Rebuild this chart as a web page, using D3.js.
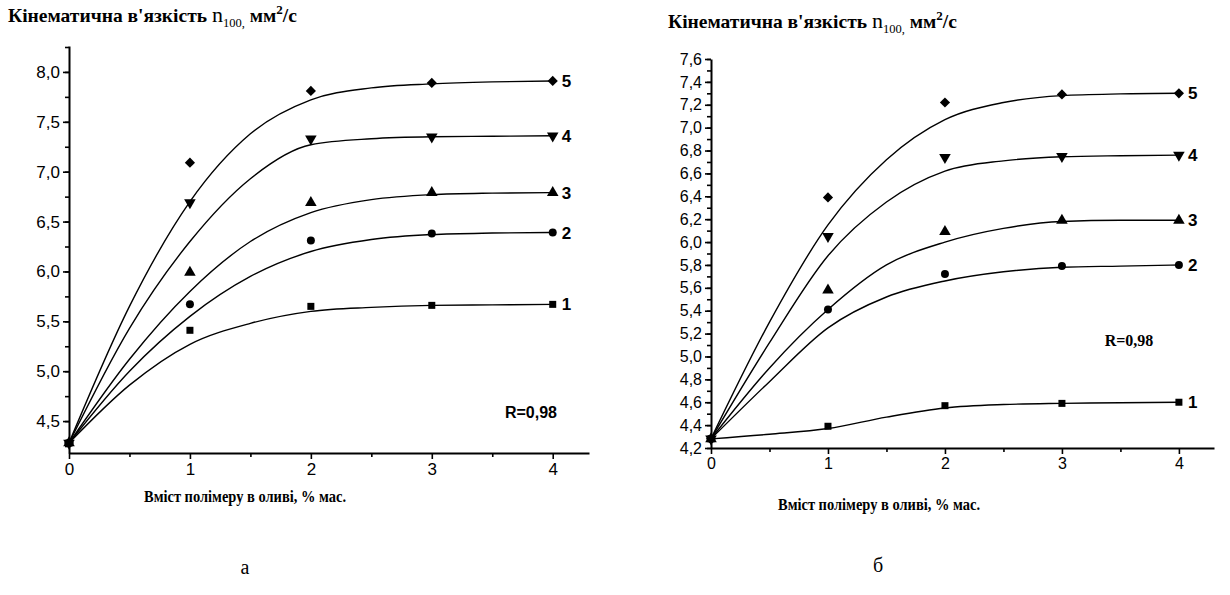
<!DOCTYPE html>
<meta charset="utf-8">
<head>
<style>
    body { margin: 0; background: #fff; }
    svg text { fill: #000; }
</style>
</head>
<body>
<div id="chart"></div>
<script src="https://d3js.org/d3.v7.min.js"></script>
<script>
    // x positions of measured points and of the sampled fit curves
    let xVals = [0, 1, 2, 3, 4];
    let fitX = [0, 0.5, 1, 1.5, 2, 2.5, 3, 3.5, 4];
    let seriesNames = ['1', '2', '3', '4', '5'];
    let xTicks = [0, 1, 2, 3, 4];

    // panel a - measured values, series 1..5
    let aMeasured = [
        [4.28, 5.41, 5.65, 5.66, 5.67],
        [4.28, 5.67, 6.31, 6.38, 6.39],
        [4.28, 5.99, 6.69, 6.79, 6.79],
        [4.28, 6.69, 7.33, 7.35, 7.36],
        [4.28, 7.09, 7.81, 7.89, 7.91]
    ];
    // panel a - fit curves at fitX
    let aFit = [
        [4.28, 4.86, 5.27, 5.48, 5.60, 5.64, 5.66, 5.665, 5.67],
        [4.28, 5.00, 5.55, 5.95, 6.20, 6.32, 6.37, 6.385, 6.39],
        [4.28, 5.12, 5.80, 6.30, 6.59, 6.72, 6.77, 6.785, 6.79],
        [4.28, 5.43, 6.30, 6.93, 7.27, 7.33, 7.35, 7.355, 7.36],
        [4.28, 5.65, 6.70, 7.38, 7.72, 7.84, 7.88, 7.90, 7.91]
    ];
    let aYTicks = [4.5, 5.0, 5.5, 6.0, 6.5, 7.0, 7.5, 8.0];

    // panel b
    let bMeasured = [
        [4.28, 4.39, 4.57, 4.59, 4.60],
        [4.28, 5.41, 5.72, 5.79, 5.80],
        [4.28, 5.58, 6.09, 6.19, 6.19],
        [4.28, 6.05, 6.74, 6.75, 6.76],
        [4.28, 6.39, 7.22, 7.29, 7.30]
    ];
    let bFit = [
        [4.28, 4.32, 4.37, 4.47, 4.55, 4.58, 4.59, 4.595, 4.60],
        [4.28, 4.78, 5.25, 5.52, 5.66, 5.74, 5.78, 5.79, 5.80],
        [4.28, 4.90, 5.41, 5.80, 6.00, 6.12, 6.18, 6.19, 6.19],
        [4.28, 5.12, 5.88, 6.35, 6.62, 6.71, 6.745, 6.755, 6.76],
        [4.28, 5.30, 6.15, 6.72, 7.07, 7.22, 7.28, 7.295, 7.30]
    ];
    let bYTicks = [4.2, 4.4, 4.6, 4.8, 5.0, 5.2, 5.4, 5.6, 5.8, 6.0, 6.2, 6.4, 6.6, 6.8, 7.0, 7.2, 7.4, 7.6];

    let svg = d3.select('#chart').append('svg')
        .attr('width', 1230).attr('height', 595);

    let serif = '"Liberation Serif", "Times New Roman", serif';
    let sans = '"Liberation Sans", Arial, sans-serif';

    // marker shapes: square, circle, triangle up, triangle down, diamond
    function marker(g, i, x, y) {
        let s;
        if (i == 0) s = g.append('rect').attr('x', x - 3.5).attr('y', y - 3.5).attr('width', 7).attr('height', 7);
        else if (i == 1) s = g.append('circle').attr('cx', x).attr('cy', y).attr('r', 4);
        else if (i == 2) s = g.append('path').attr('d', d3.symbol(d3.symbolTriangle, 58)()).attr('transform', `translate(${x},${y})`);
        else if (i == 3) s = g.append('path').attr('d', d3.symbol(d3.symbolTriangle, 58)()).attr('transform', `translate(${x},${y}) rotate(180)`);
        else s = g.append('path').attr('d', d3.symbol(d3.symbolSquare, 52)()).attr('transform', `translate(${x},${y}) rotate(45)`);
        s.attr('fill', '#000');
    }

    function drawPanel(cfg) {
        let x = d3.scaleLinear().domain([0, 4.3]).range(cfg.xRange);
        let y = d3.scaleLinear().domain(cfg.yDomain).range(cfg.yRange);
        let g = svg.append('g');

        // minor ticks
        let yMinor = d3.range(cfg.yTicks[0] - cfg.yStep / 2, cfg.yDomain[1] + 0.001, cfg.yStep / 2)
            .filter(v => v >= cfg.yDomain[0] - 1e-6);
        g.append('g').attr('transform', `translate(${cfg.xRange[0]},0)`)
            .call(d3.axisLeft(y).tickValues(yMinor).tickSize(4).tickSizeOuter(0).tickFormat(''))
            .call(a => a.select('.domain').remove())
            .selectAll('line').attr('stroke-width', 1.6);
        g.append('g').attr('transform', `translate(0,${cfg.yRange[0]})`)
            .call(d3.axisBottom(x).tickValues([0.5, 1.5, 2.5, 3.5]).tickSize(4).tickSizeOuter(0).tickFormat(''))
            .call(a => a.select('.domain').remove())
            .selectAll('line').attr('stroke-width', 1.6);

        // major axes
        let ya = g.append('g').attr('transform', `translate(${cfg.xRange[0]},0)`)
            .call(d3.axisLeft(y).tickValues(cfg.yTicks).tickSize(6).tickSizeOuter(0).tickPadding(3)
                .tickFormat(d => d3.format('.1f')(d).replace('.', ',')));
        let xa = g.append('g').attr('transform', `translate(0,${cfg.yRange[0]})`)
            .call(d3.axisBottom(x).tickValues(xTicks).tickSize(6).tickSizeOuter(0).tickPadding(4)
                .tickFormat(d3.format('d')));
        [ya, xa].forEach(a => {
            a.select('.domain').attr('stroke-width', 2);
            a.selectAll('line').attr('stroke-width', 1.6);
            a.selectAll('text').attr('font-family', sans).attr('font-size', cfg.tickFont).attr('fill', '#000');
        });

        // fit curves
        let line = d3.line().x((d, i) => x(fitX[i])).y(d => y(d)).curve(d3.curveMonotoneX);
        g.selectAll('path.fit').data(cfg.fit).enter().append('path')
            .attr('class', 'fit')
            .attr('d', line)
            .attr('fill', 'none').attr('stroke', '#000').attr('stroke-width', 1.4);

        // markers and series labels
        cfg.measured.forEach((vals, i) => {
            vals.forEach((v, j) => marker(g, i, x(xVals[j]), y(v)));
            g.append('text')
                .attr('x', x(4) + 9).attr('y', y(vals[4]))
                .attr('dy', '0.36em')
                .attr('font-family', sans).attr('font-weight', 'bold').attr('font-size', 17)
                .text(seriesNames[i]);
        });

        // R label
        g.append('text').attr('x', cfg.rPos[0]).attr('y', cfg.rPos[1])
            .attr('text-anchor', 'middle')
            .attr('font-family', cfg.rFont).attr('font-weight', 'bold').attr('font-size', 16)
            .text('R=0,98');

        // y title
        let t = g.append('text').attr('x', cfg.titlePos[0]).attr('y', cfg.titlePos[1])
            .attr('font-family', serif).attr('font-size', 19.5).attr('font-weight', 'bold');
        t.append('tspan').text('Кінематична в\'язкість ');
        t.append('tspan').attr('font-weight', 'normal').attr('font-size', 22).text('n');
        t.append('tspan').attr('font-weight', 'normal').attr('font-size', 12.5).attr('dy', 5).text('100');
        t.append('tspan').attr('font-weight', 'normal').attr('font-size', 12.5).text(',');
        t.append('tspan').attr('dy', -5).text(cfg.titleGap + 'мм');
        t.append('tspan').attr('font-size', 13).attr('dy', -8).text('2');
        t.append('tspan').attr('dy', 8).text('/с');

        // x title (condensed serif)
        g.append('text').attr('x', cfg.xTitlePos[0] - 101).attr('y', cfg.xTitlePos[1])
            .attr('font-family', serif).attr('font-weight', 'bold').attr('font-size', 17)
            .attr('textLength', 202).attr('lengthAdjust', 'spacingAndGlyphs')
            .text('Вміст полімеру в оливі, % мас.');

        // panel letter
        g.append('text').attr('x', cfg.letterPos[0]).attr('y', cfg.letterPos[1])
            .attr('text-anchor', 'middle')
            .attr('font-family', serif).attr('font-size', 20)
            .text(cfg.letter);
    }

    drawPanel({
        xRange: [69, 589], yDomain: [4.18, 8.26], yRange: [453, 46],
        yTicks: aYTicks, yStep: 0.5, tickFont: 17,
        measured: aMeasured, fit: aFit,
        rPos: [531, 418], rFont: sans,
        titlePos: [8, 22], titleGap: ' ',
        xTitlePos: [245, 502], letter: 'а', letterPos: [245, 574]
    });

    drawPanel({
        xRange: [711, 1214], yDomain: [4.2, 7.6], yRange: [448, 59],
        yTicks: bYTicks, yStep: 0.2, tickFont: 16,
        measured: bMeasured, fit: bFit,
        rPos: [1129, 346], rFont: serif,
        titlePos: [668, 28], titleGap: '  ',
        xTitlePos: [879, 510], letter: 'б', letterPos: [878, 572]
    });
</script>
</body>
